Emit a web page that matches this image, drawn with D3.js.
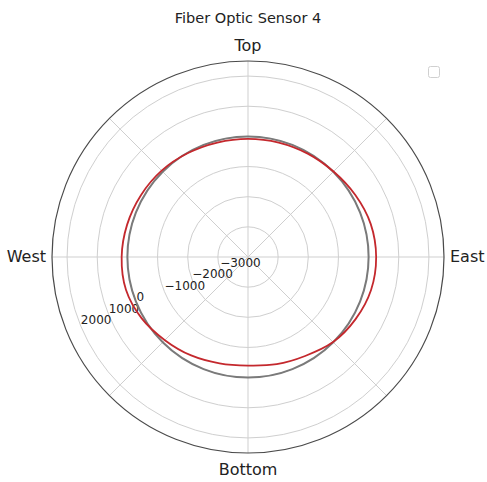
<!DOCTYPE html>
<html>
<head>
<meta charset="utf-8">
<script src="https://cdn.jsdelivr.net/npm/d3@7"></script>
<style>
  html, body { margin: 0; padding: 0; background: #fff; }
  text { font-family: "DejaVu Sans", sans-serif; fill: #222; }
</style>
</head>
<body>
<svg id="chart" width="487" height="482"></svg>
<script>
// Sensor readings: angle in degrees (counter-clockwise from East) and strain value
const angles = [0, 15, 30, 45, 60, 75, 90, 105, 120, 135, 150, 165,
                180, 195, 210, 225, 240, 255, 270, 285, 300, 315, 330, 345];
const sensorValues = [250, 215, 110, 10, -40, -70, -80, -70, -20, 50, 100, 150,
                      190, 190, 70, -100, -230, -350, -400, -320, -210, -10, 120, 225];
// Reference (zero) circle
const referenceValue = 0;
// Radial ticks and compass labels
const radialTicks = [-3000, -2000, -1000, 0, 1000, 2000];
const radialDomain = [-4000, 2500];
const directionLabels = ["East", "Top", "West", "Bottom"];
const spokeAngles = [0, 45, 90, 135, 180, 225, 270, 315];
const title = "Fiber Optic Sensor 4";

const svg = d3.select("#chart");
const cx = 248, cy = 257, R = 196;
const g = svg.append("g").attr("transform", `translate(${cx},${cy})`);

const r = d3.scaleLinear().domain(radialDomain).range([0, R]);
const toRad = d => d * Math.PI / 180;
// screen position from math angle and radius
const pt = (deg, rad) => [rad * Math.cos(toRad(deg)), -rad * Math.sin(toRad(deg))];

// rings
g.selectAll("circle.ring").data(radialTicks).join("circle")
  .attr("class", "ring")
  .attr("r", d => r(d))
  .attr("fill", "none")
  .attr("stroke", "#cfcfcf")
  .attr("stroke-width", 1);

// spokes
g.selectAll("line.spoke").data(spokeAngles).join("line")
  .attr("class", "spoke")
  .attr("x1", 0).attr("y1", 0)
  .attr("x2", d => pt(d, R)[0])
  .attr("y2", d => pt(d, R)[1])
  .attr("stroke", "#cfcfcf")
  .attr("stroke-width", 1);

// radial tick labels along 202.5°
const labelAngle = 202.5;
g.selectAll("text.rtick").data(radialTicks).join("text")
  .attr("class", "rtick")
  .attr("x", d => pt(labelAngle, r(d))[0])
  .attr("y", d => pt(labelAngle, r(d))[1] - 2)
  .attr("text-anchor", "start")
  .attr("font-size", 12)
  .text(d => d3.format("")(d).replace("-", "\u2212"));

// reference circle
g.append("circle")
  .attr("r", r(referenceValue))
  .attr("fill", "none")
  .attr("stroke", "#7a7a7a")
  .attr("stroke-width", 2);

// sensor curve
const pts = angles.map((a, i) => ({ a, v: sensorValues[i] }));
const line = d3.lineRadial()
  .angle(d => toRad(90 - d.a))
  .radius(d => r(d.v))
  .curve(d3.curveCatmullRomClosed.alpha(0.5));
g.append("path")
  .attr("d", line(pts))
  .attr("fill", "none")
  .attr("stroke", "#c4282d")
  .attr("stroke-width", 1.8);

// outer frame
g.append("circle")
  .attr("r", R)
  .attr("fill", "none")
  .attr("stroke", "#4a4a4a")
  .attr("stroke-width", 1.2);

// compass labels
const labelPos = {
  "East": { x: R + 6, y: 5, anchor: "start" },
  "Top": { x: 0, y: -R - 10, anchor: "middle" },
  "West": { x: -R - 6, y: 5, anchor: "end" },
  "Bottom": { x: 0, y: R + 22, anchor: "middle" }
};
g.selectAll("text.dir").data(directionLabels).join("text")
  .attr("class", "dir")
  .attr("x", d => labelPos[d].x)
  .attr("y", d => labelPos[d].y)
  .attr("text-anchor", d => labelPos[d].anchor)
  .attr("font-size", 16)
  .text(d => d);

// title
svg.append("text")
  .attr("x", cx).attr("y", 23)
  .attr("text-anchor", "middle")
  .attr("font-size", 14.5)
  .text(title);

// empty legend frame
svg.append("rect")
  .attr("x", 428.5).attr("y", 66.5)
  .attr("width", 11).attr("height", 11)
  .attr("rx", 2)
  .attr("fill", "#fff")
  .attr("stroke", "#d0d0d0")
  .attr("stroke-width", 1);
</script>
</body>
</html>
